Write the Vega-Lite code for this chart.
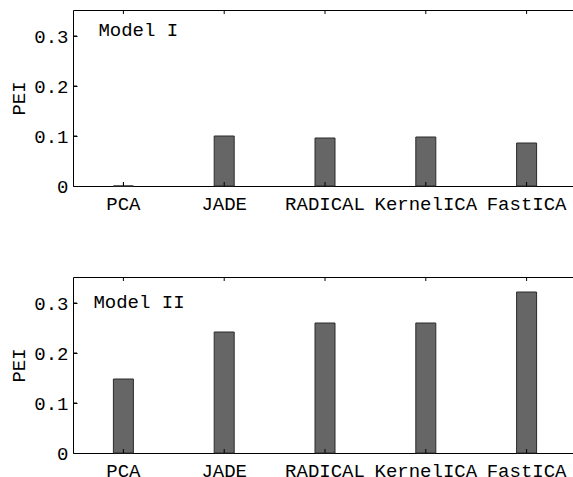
{
  "$schema": "https://vega.github.io/schema/vega-lite/v6.json",
  "padding": {"left": 9, "top": 9, "right": 0, "bottom": 0},
  "bounds": "flush",
  "spacing": 91,
  "datasets": {
    "pei": [
      {"model": "Model I", "method": "PCA", "PEI": 0},
      {"model": "Model I", "method": "JADE", "PEI": 0.1},
      {"model": "Model I", "method": "RADICAL", "PEI": 0.096},
      {"model": "Model I", "method": "KernelICA", "PEI": 0.098},
      {"model": "Model I", "method": "FastICA", "PEI": 0.086},
      {"model": "Model II", "method": "PCA", "PEI": 0.148},
      {"model": "Model II", "method": "JADE", "PEI": 0.242},
      {"model": "Model II", "method": "RADICAL", "PEI": 0.26},
      {"model": "Model II", "method": "KernelICA", "PEI": 0.26},
      {"model": "Model II", "method": "FastICA", "PEI": 0.322}
    ],
    "labels": [
      {"model": "Model I", "method": "PCA", "PEI": 0.3},
      {"model": "Model II", "method": "PCA", "PEI": 0.29}
    ],
    "yticks": [{"v": 0.1}, {"v": 0.2}, {"v": 0.3}]
  },
  "config": {
    "font": "Liberation Mono",
    "view": {"stroke": "#000000", "strokeWidth": 1},
    "axis": {
      "labelFont": "Liberation Mono",
      "titleFont": "Liberation Mono",
      "labelFontSize": 19,
      "titleFontSize": 19,
      "titleFontWeight": "normal",
      "labelColor": "#000000",
      "titleColor": "#000000",
      "grid": false,
      "domain": false,
      "offset": -4,
      "tickSize": 4,
      "tickColor": "#000000",
      "tickWidth": 1
    },
    "tick": {"color": "#000000", "thickness": 1, "opacity": 1},
    "rule": {"color": "#000000", "strokeWidth": 1}
  },
  "vconcat": [
    {
      "width": 504,
      "height": 176,
      "data": {"name": "pei"},
      "transform": [{"filter": "datum.model == 'Model I'"}],
      "layer": [
        {
          "layer": [
            {
              "mark": {"type": "bar", "width": 20, "fill": "#666666", "stroke": "#2b2b2b", "strokeWidth": 1},
              "encoding": {
                "x": {"field": "method", "type": "nominal", "sort": null,
                  "scale": {"domain": ["PCA", "JADE", "RADICAL", "KernelICA", "FastICA"], "paddingInner": 0, "paddingOuter": 0},
                  "axis": {"orient": "bottom", "title": null, "labelAngle": 0, "labelPadding": 8, "labelBaseline": "top"}},
                "y": {"field": "PEI", "type": "quantitative",
                  "scale": {"domain": [0, 0.352], "nice": false},
                  "axis": {"values": [0, 0.1, 0.2, 0.3], "format": ".1~f", "title": "PEI", "labelPadding": 5, "titlePadding": 5}}
              }
            },
            {
              "mark": {"type": "tick", "orient": "vertical", "size": 8, "clip": true},
              "encoding": {
                "x": {"field": "method", "type": "nominal", "sort": null},
                "y": {"datum": 0, "type": "quantitative"}
              }
            },
            {
              "mark": {"type": "tick", "orient": "vertical", "size": 8, "clip": true},
              "encoding": {
                "x": {"field": "method", "type": "nominal", "sort": null},
                "y": {"datum": 0.352, "type": "quantitative"}
              }
            },
            {
              "data": {"name": "labels"},
              "transform": [{"filter": "datum.model == 'Model I'"}],
              "mark": {"type": "text", "align": "left", "baseline": "alphabetic", "dx": -25, "fontSize": 19, "font": "Liberation Mono", "color": "#000000"},
              "encoding": {
                "x": {"field": "method", "type": "nominal", "sort": null},
                "y": {"field": "PEI", "type": "quantitative"},
                "text": {"field": "model"}
              }
            }
          ]
        },
        {
          "data": {"name": "yticks"},
          "mark": {"type": "rule"},
          "encoding": {
            "x": {"datum": 0, "type": "quantitative", "scale": {"domain": [0, 126], "nice": false, "zero": false}, "axis": null},
            "x2": {"datum": 1},
            "y": {"field": "v", "type": "quantitative"}
          }
        }
      ],
      "resolve": {"scale": {"x": "independent"}, "axis": {"x": "independent"}}
    },
    {
      "width": 504,
      "height": 176,
      "data": {"name": "pei"},
      "transform": [{"filter": "datum.model == 'Model II'"}],
      "layer": [
        {
          "layer": [
            {
              "mark": {"type": "bar", "width": 20, "fill": "#666666", "stroke": "#2b2b2b", "strokeWidth": 1},
              "encoding": {
                "x": {"field": "method", "type": "nominal", "sort": null,
                  "scale": {"domain": ["PCA", "JADE", "RADICAL", "KernelICA", "FastICA"], "paddingInner": 0, "paddingOuter": 0},
                  "axis": {"orient": "bottom", "title": null, "labelAngle": 0, "labelPadding": 8, "labelBaseline": "top"}},
                "y": {"field": "PEI", "type": "quantitative",
                  "scale": {"domain": [0, 0.352], "nice": false},
                  "axis": {"values": [0, 0.1, 0.2, 0.3], "format": ".1~f", "title": "PEI", "labelPadding": 5, "titlePadding": 5}}
              }
            },
            {
              "mark": {"type": "tick", "orient": "vertical", "size": 8, "clip": true},
              "encoding": {
                "x": {"field": "method", "type": "nominal", "sort": null},
                "y": {"datum": 0, "type": "quantitative"}
              }
            },
            {
              "mark": {"type": "tick", "orient": "vertical", "size": 8, "clip": true},
              "encoding": {
                "x": {"field": "method", "type": "nominal", "sort": null},
                "y": {"datum": 0.352, "type": "quantitative"}
              }
            },
            {
              "data": {"name": "labels"},
              "transform": [{"filter": "datum.model == 'Model II'"}],
              "mark": {"type": "text", "align": "left", "baseline": "alphabetic", "dx": -30, "fontSize": 19, "font": "Liberation Mono", "color": "#000000"},
              "encoding": {
                "x": {"field": "method", "type": "nominal", "sort": null},
                "y": {"field": "PEI", "type": "quantitative"},
                "text": {"field": "model"}
              }
            }
          ]
        },
        {
          "data": {"name": "yticks"},
          "mark": {"type": "rule"},
          "encoding": {
            "x": {"datum": 0, "type": "quantitative", "scale": {"domain": [0, 126], "nice": false, "zero": false}, "axis": null},
            "x2": {"datum": 1},
            "y": {"field": "v", "type": "quantitative"}
          }
        }
      ],
      "resolve": {"scale": {"x": "independent"}, "axis": {"x": "independent"}}
    }
  ]
}
